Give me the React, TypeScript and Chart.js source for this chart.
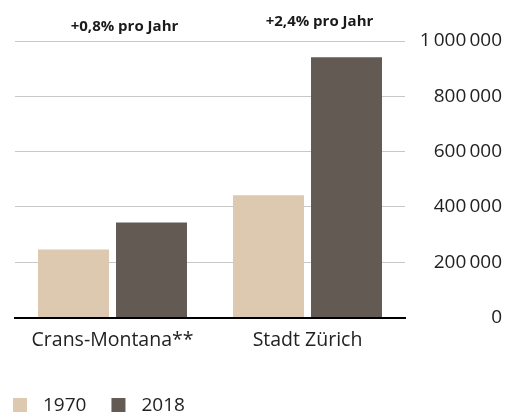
import React, { useEffect, useRef } from "react";
import { Chart, registerables } from "chart.js";

Chart.register(...registerables);

const categories = ["Crans-Montana**", "Stadt Zürich"];
const values1970 = [246000, 442000];
const values2018 = [344000, 941000];
const growthLabels = ["+0,8% pro Jahr", "+2,4% pro Jahr"];
const yTicks = [0, 200000, 400000, 600000, 800000, 1000000];

const FONT = "'Open Sans', 'Noto Sans', sans-serif";

const fmt = (v: number) => String(v).replace(/\B(?=(\d{3})+(?!\d))/g, "\u2009");

const growthPlugin = {
  id: "growthLabels",
  afterDraw(chart: any) {
    const { ctx } = chart;
    const xs = chart.scales.x;
    const yOff = [31, 26];
    ctx.save();
    ctx.font = `bold 15px ${FONT}`;
    ctx.fillStyle = "#1a1a1a";
    ctx.textAlign = "center";
    ctx.textBaseline = "alphabetic";
    growthLabels.forEach((t, i) => {
      ctx.fillText(t, xs.getPixelForValue(i) + 12, yOff[i]);
    });
    ctx.restore();
  },
};

const legendPlugin = {
  id: "customLegend",
  afterDraw(chart: any) {
    const { ctx } = chart;
    const box = 14;
    const cy = 405;
    let x = 13;
    ctx.save();
    ctx.font = `19px ${FONT}`;
    ctx.textBaseline = "middle";
    ctx.textAlign = "left";
    chart.data.datasets.forEach((ds: any) => {
      ctx.fillStyle = ds.backgroundColor;
      ctx.fillRect(x, cy - box / 2, box, box);
      x += box + 16;
      ctx.fillStyle = "#222";
      ctx.fillText(ds.label, x, cy + 1);
      x += ctx.measureText(ds.label).width + 25;
    });
    ctx.restore();
  },
};

export default function App() {
  const ref = useRef<HTMLCanvasElement | null>(null);
  useEffect(() => {
    if (!ref.current) return;
    const chart = new Chart(ref.current, {
      type: "bar",
      data: {
        labels: categories,
        datasets: [
          { label: "1970", data: values1970, backgroundColor: "#DCC9B0", categoryPercentage: 0.8, barPercentage: 0.91 },
          { label: "2018", data: values2018, backgroundColor: "#635A54", categoryPercentage: 0.8, barPercentage: 0.91 },
        ],
      },
      options: {
        animation: false,
        responsive: true,
        maintainAspectRatio: false,
        layout: { padding: { left: 15, right: 4, top: 41, bottom: 50 } },
        plugins: {
          tooltip: { enabled: false },
          legend: { display: false },
        },
        scales: {
          x: {
            grid: { display: false, drawTicks: false },
            border: { display: true, color: "#000", width: 2 },
            ticks: { color: "#222", font: { family: FONT, size: 19.5 }, padding: 11 },
          },
          y: {
            position: "right",
            min: 0,
            max: 1000000,
            afterBuildTicks: (s: any) => {
              s.ticks = yTicks.map((v) => ({ value: v }));
            },
            afterFit: (s: any) => {
              s.width = 97;
            },
            grid: {
              drawTicks: false,
              color: (c: any) => (c.tick && c.tick.value === 0 ? "rgba(0,0,0,0)" : "#c8c8c8"),
              lineWidth: 1,
            },
            border: { display: false },
            ticks: {
              crossAlign: "far",
              padding: 8,
              color: "#222",
              font: { family: FONT, size: 19 },
              callback: (v: any) => fmt(Number(v)),
            },
          },
        },
      },
      plugins: [growthPlugin, legendPlugin],
    } as any);
    return () => chart.destroy();
  }, []);
  return (
    <div style={{ position: "fixed", left: 0, top: 0, width: 506, height: 413, background: "#fff" }}>
      <canvas ref={ref} />
    </div>
  );
}
